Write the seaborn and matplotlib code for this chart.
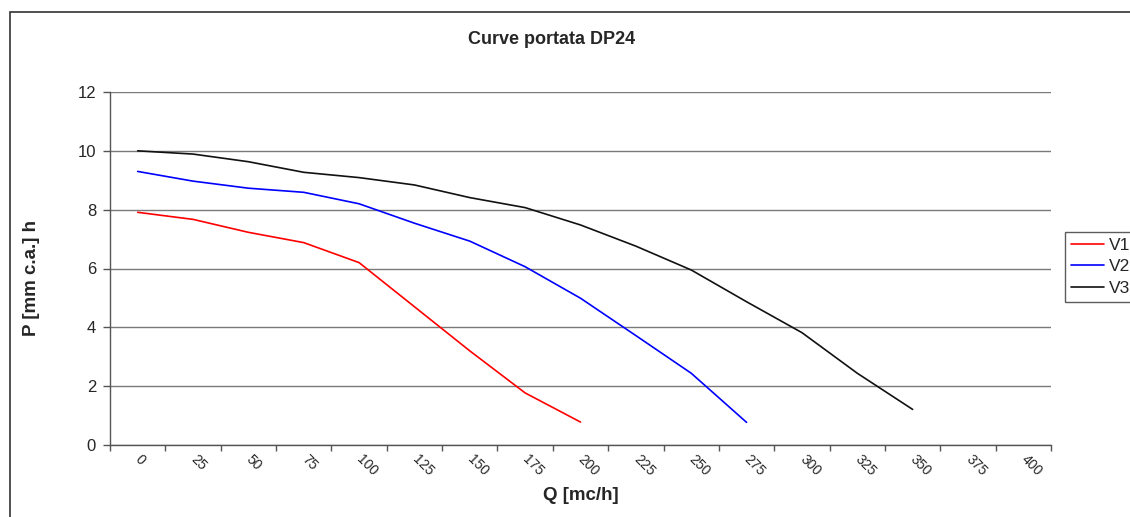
import numpy as np
import pandas as pd
import matplotlib
matplotlib.use('Agg')
import matplotlib.pyplot as plt
import seaborn as sns
from matplotlib.patches import Rectangle
from matplotlib.lines import Line2D

# categorie asse X (portata)
q_labels = ['0', '25', '50', '75', '100', '125', '150', '175', '200',
            '225', '250', '275', '300', '325', '350', '375', '400']

# pressione per velocita
v1 = [7.91, 7.67, 7.23, 6.88, 6.20, 4.70, 3.20, 1.77, 0.78]
v2 = [9.30, 8.97, 8.73, 8.59, 8.20, 7.54, 6.93, 6.06, 4.99, 3.72, 2.44, 0.77]
v3 = [10.0, 9.89, 9.63, 9.27, 9.09, 8.84, 8.41, 8.07, 7.48, 6.76, 5.95, 4.87, 3.82, 2.44, 1.21]

colori = {'V1': '#ff0000', 'V2': '#0000ff', 'V3': '#111111'}

rows = []
for name, vals in [('V1', v1), ('V2', v2), ('V3', v3)]:
    for i, p in enumerate(vals):
        rows.append({'pos': i, 'P': p, 'serie': name})
df = pd.DataFrame(rows)

sns.set_style('white')
plt.rcParams['font.family'] = ['Liberation Sans', 'DejaVu Sans']

fig = plt.figure(figsize=(11.3, 5.17), dpi=100)
ax = fig.add_axes([110 / 1130, 1 - 445 / 517, (1051 - 110) / 1130, (445 - 92) / 517])

sns.lineplot(data=df, x='pos', y='P', hue='serie', palette=colori,
             linewidth=1.2, ax=ax, legend=False)

ax.set_xlim(-0.5, len(q_labels) - 0.5)
ax.set_ylim(0, 12)
ax.set_yticks(range(0, 13, 2))
ax.yaxis.grid(True, color='#7a7a7a', linewidth=1)
ax.set_axisbelow(True)

# etichette al centro delle categorie, tacche sui bordi
ax.set_xticks(np.arange(len(q_labels)))
ax.set_xticklabels(q_labels, rotation=-45, rotation_mode='anchor',
                   ha='left', va='center', fontsize=10)
ax.set_xticks(np.arange(-0.5, len(q_labels)), minor=True)
ax.tick_params(axis='x', which='major', length=0, pad=9)
ax.tick_params(axis='x', which='minor', length=4, width=1, color='#555555',
               direction='out', bottom=True)
ax.tick_params(axis='y', length=5, width=1, color='#555555', direction='out',
               labelsize=12, pad=5, left=True)

for s in ['top', 'right']:
    ax.spines[s].set_visible(False)
for s in ['left', 'bottom']:
    ax.spines[s].set_color('#555555')
    ax.spines[s].set_linewidth(1)

ax.set_xlabel('Q [mc/h]', fontsize=13.5, fontweight='bold')
ax.set_ylabel('P [mm c.a.] h', fontsize=13.5, fontweight='bold')
ax.xaxis.set_label_coords(0.5, -(496 - 445) / 353)
ax.yaxis.set_label_coords(-(110 - 32) / 941, 0.5 - 9 / 353)
ax.xaxis.label.set_va('center')
ax.yaxis.label.set_va('center')

fig.text(552 / 1130, 1 - 40 / 517, 'Curve portata DP24', fontsize=13,
         fontweight='bold', ha='center', va='center')

handles = [Line2D([], [], color=colori[k], lw=1.2) for k in ['V1', 'V2', 'V3']]
leg = fig.legend(handles, ['V1', 'V2', 'V3'], loc='upper left',
                 bbox_to_anchor=(1065 / 1130, 1 - 232 / 517), frameon=True,
                 fontsize=12.5, handlelength=1.9, handletextpad=0.3,
                 borderpad=0.35, borderaxespad=0, labelspacing=0.35,
                 fancybox=False)
leg.get_frame().set_edgecolor('#333333')
leg.get_frame().set_linewidth(1)

fig.patches.append(Rectangle((10 / 1130, -0.1), 1.2, 1 - 12 / 517 + 0.1,
                             transform=fig.transFigure, fill=False,
                             edgecolor='#333333', linewidth=1.2))

fig.savefig('out.png', dpi=100)
